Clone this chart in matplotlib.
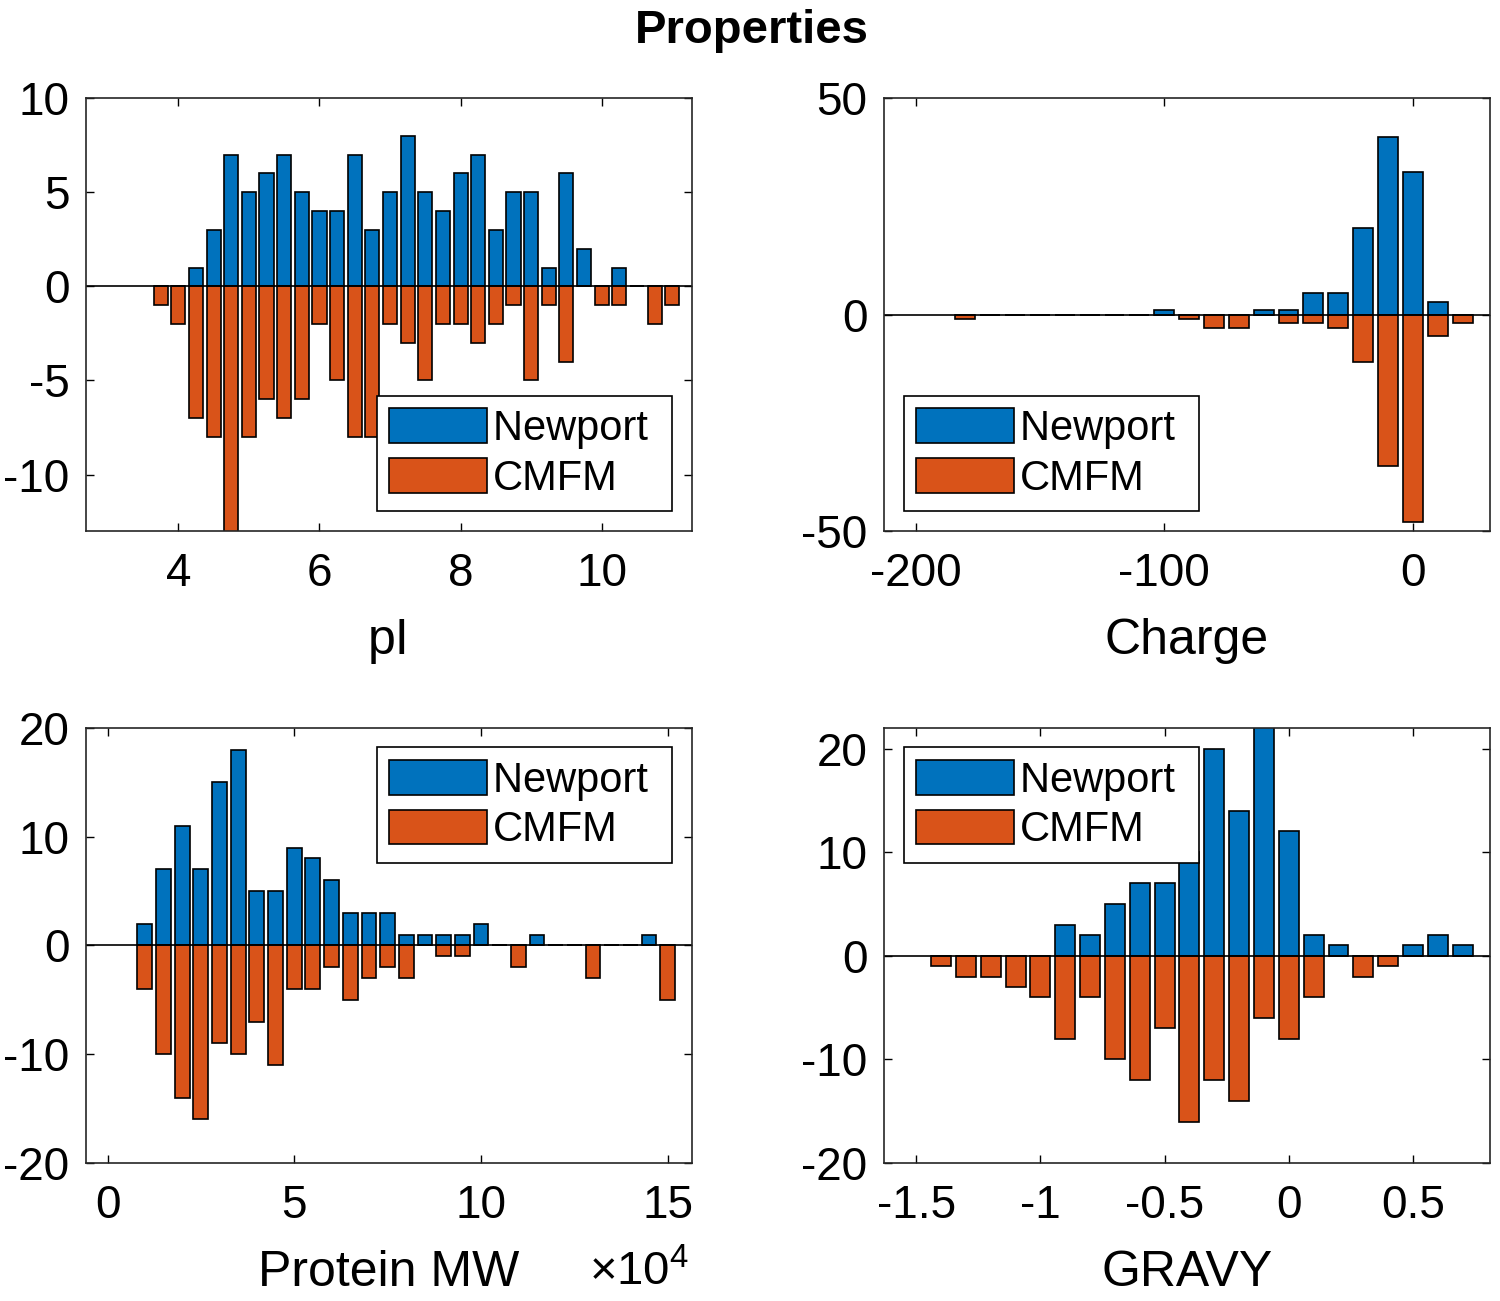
import matplotlib
matplotlib.use("Agg")
import matplotlib.pyplot as plt

plt.rcParams['font.family'] = ['Liberation Sans', 'DejaVu Sans']
plt.rcParams['mathtext.fontset'] = 'custom'
plt.rcParams['mathtext.rm'] = 'Liberation Sans'

#histogram bin centres and counts (CMFM drawn as negative counts)
pi_bins = [3.75, 4.0, 4.25, 4.5, 4.75, 5.0, 5.25, 5.5, 5.75, 6.0, 6.25, 6.5, 6.75, 7.0, 7.25,
           7.5, 7.75, 8.0, 8.25, 8.5, 8.75, 9.0, 9.25, 9.5, 9.75, 10.0, 10.25, 10.5, 10.75, 11.0]
pi_newport = [0, 0, 1, 3, 7, 5, 6, 7, 5, 4, 4, 7, 3, 5, 8, 5, 4, 6, 7, 3, 5, 5, 1, 6, 2, 0, 1, 0, 0, 0]
pi_cmfm = [-1, -2, -7, -8, -15, -8, -6, -7, -6, -2, -5, -8, -8, -2, -3, -5, -2, -2, -3, -2, -1, -5,
           -1, -4, 0, -1, -1, 0, -2, -1]

charge_bins = [-180, -170, -160, -150, -140, -130, -120, -110, -100, -90, -80, -70, -60, -50, -40,
               -30, -20, -10, 0, 10, 20]
charge_newport = [0, 0, 0, 0, 0, 0, 0, 0, 1, 0, 0, 0, 1, 1, 5, 5, 20, 41, 33, 3, 0]
charge_cmfm = [-1, 0, 0, 0, 0, 0, 0, 0, 0, -1, -3, -3, 0, -2, -2, -3, -11, -35, -48, -5, -2]

mw_bins = [10000, 15000, 20000, 25000, 30000, 35000, 40000, 45000, 50000, 55000, 60000, 65000,
           70000, 75000, 80000, 85000, 90000, 95000, 100000, 105000, 110000, 115000, 120000,
           125000, 130000, 135000, 140000, 145000, 150000]
mw_newport = [2, 7, 11, 7, 15, 18, 5, 5, 9, 8, 6, 3, 3, 3, 1, 1, 1, 1, 2, 0, 0, 1, 0, 0, 0, 0, 0, 1, 0]
mw_cmfm = [-4, -10, -14, -16, -9, -10, -7, -11, -4, -4, -2, -5, -3, -2, -3, 0, -1, -1, 0, 0, -2, 0,
           0, 0, -3, 0, 0, 0, -5]

gravy_bins = [-1.4, -1.3, -1.2, -1.1, -1.0, -0.9, -0.8, -0.7, -0.6, -0.5, -0.4, -0.3, -0.2, -0.1,
              0.0, 0.1, 0.2, 0.3, 0.4, 0.5, 0.6, 0.7]
gravy_newport = [0, 0, 0, 0, 0, 3, 2, 5, 7, 7, 10, 20, 14, 24, 12, 2, 1, 0, 0, 1, 2, 1]
gravy_cmfm = [-1, -2, -2, -3, -4, -8, -4, -10, -12, -7, -16, -12, -14, -6, -8, -4, 0, -2, -1, 0, 0, 0]

blue = "#0072BD"
orange = "#D95319"

fig = plt.figure(figsize=(15, 13.01), dpi=100)
fig.text(0.501, 0.976, "Properties", ha="center", va="center", fontsize=34, fontweight="bold")

panels = [
    # bins, newport, cmfm, bin width, xlabel, xlim, ylim, xticks, yticks, legend loc, axes rect
    (pi_bins, pi_newport, pi_cmfm, 0.25, "pI", (2.69, 11.28), (-13, 10),
     [4, 6, 8, 10], [-10, -5, 0, 5, 10], "lower right", [0.0573, 0.5918, 0.404, 0.3328]),
    (charge_bins, charge_newport, charge_cmfm, 10, "Charge", (-212.7, 31), (-50, 50),
     [-200, -100, 0], [-50, 0, 50], "lower left", [0.5893, 0.5918, 0.404, 0.3328]),
    (mw_bins, mw_newport, mw_cmfm, 5000, "Protein MW", (-5800, 156500), (-20, 20),
     [0, 50000, 100000, 150000], [-20, -10, 0, 10, 20], "upper right",
     [0.0573, 0.1061, 0.404, 0.3344]),
    (gravy_bins, gravy_newport, gravy_cmfm, 0.1, "GRAVY", (-1.63, 0.81), (-20, 22),
     [-1.5, -1, -0.5, 0, 0.5], [-20, -10, 0, 10, 20], "upper left",
     [0.5893, 0.1061, 0.404, 0.3344]),
]

for bins, newport, cmfm, w, xlabel, xlim, ylim, xticks, yticks, loc, rect in panels:
    ax = fig.add_axes(rect)
    #trailing space widens the legend box the way MATLAB pads it
    ax.bar(bins, newport, width=0.8 * w, color=blue, edgecolor="black", linewidth=1.2,
           label="Newport ")
    ax.bar(bins, cmfm, width=0.8 * w, color=orange, edgecolor="black", linewidth=1.2,
           label="CMFM")
    ax.axhline(0, color="black", linewidth=1.2)
    ax.set_xlim(xlim)
    ax.set_ylim(ylim)
    ax.set_xticks(xticks)
    ax.set_yticks(yticks)
    if xlabel == "Protein MW":
        ax.set_xticklabels(["0", "5", "10", "15"])
    else:
        ax.set_xticklabels(["%g" % t for t in xticks])
    ax.set_yticklabels(["%g" % t for t in yticks])
    ax.tick_params(direction="in", length=6, width=1, top=True, right=True,
                   labelsize=33, pad=12)
    ax.tick_params(axis="x", pad=15)
    for s in ax.spines.values():
        s.set_linewidth(1.2)
        s.set_color("#262626")
    ax.set_xlabel(xlabel, fontsize=36, labelpad=16)
    leg = ax.legend(loc=loc, fontsize=30, frameon=True, fancybox=False, framealpha=1,
                    edgecolor="black", handlelength=2.35, handleheight=0.9,
                    handletextpad=0.15, labelspacing=0.22, borderpad=0.3,
                    borderaxespad=0.47)
    leg.get_frame().set_linewidth(1.2)
    for h in leg.legend_handles:
        h.set_edgecolor("black")

fig.text(0.459, 0.012, r"$\mathregular{\times10^{4}}$", ha="right", va="baseline", fontsize=34)

fig.savefig("out.png", dpi=100)
